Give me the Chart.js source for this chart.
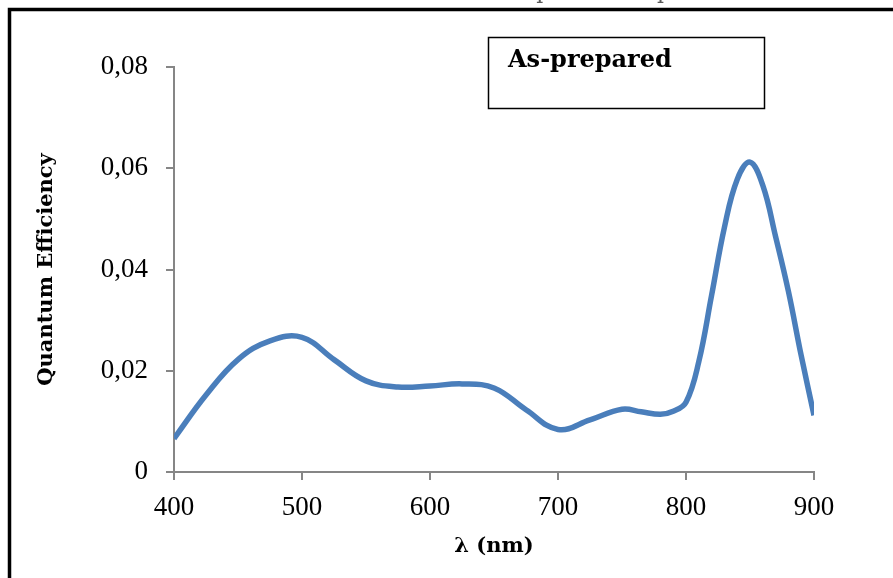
<!DOCTYPE html>
<html>
<head>
<meta charset="utf-8">
<script src="https://cdn.jsdelivr.net/npm/chart.js@4.4.1/dist/chart.umd.min.js"></script>
<style>
  html, body { margin: 0; padding: 0; background: #fff; }
  #wrap { position: relative; width: 893px; height: 578px; }
</style>
</head>
<body>
<div id="wrap"><canvas id="qeChart" width="893" height="578"></canvas></div>
<script>
// Datos (longitud de onda en nm y eficiencia cuántica)
const wavelengths = [400, 425, 450, 475, 500, 525, 550, 575, 600, 625, 650, 675, 700, 725, 750, 765, 780, 790, 800, 810, 820, 830, 840, 850, 860, 870, 880, 890, 900];
const efficiency = [0.0066, 0.0152, 0.0222, 0.0259, 0.0266, 0.0222, 0.0180, 0.0168, 0.0170, 0.0174, 0.0166, 0.0123, 0.0084, 0.0103, 0.0124, 0.0119, 0.0114, 0.0120, 0.0138, 0.0218, 0.0349, 0.0483, 0.0578, 0.0612, 0.0566, 0.0465, 0.0357, 0.0230, 0.0112];
const xTicks = [400, 500, 600, 700, 800, 900];
const yTicks = [0, 0.02, 0.04, 0.06, 0.08];
const seriesLabel = 'As-prepared';
const xTitle = 'λ (nm)';
const yTitle = 'Quantum Efficiency';
const topText = 'Spectral response';

const axisGray = '#868686';
const lineBlue = '#4a7ebb';
const serif = "'DejaVu Serif', 'Liberation Serif', serif";
const tickSerif = "'Liberation Serif', 'DejaVu Serif', serif";

// Marco, texto cortado arriba y recuadro de la leyenda
const decorPlugin = {
    id: 'decor',
    beforeDraw(chart) {
        const ctx = chart.ctx;
        ctx.save();
        ctx.fillStyle = '#595959';
        ctx.font = "22px " + serif;
        ctx.textAlign = 'center';
        ctx.textBaseline = 'alphabetic';
        ctx.fillText(topText, 622, -2);
        ctx.strokeStyle = '#000';
        ctx.lineWidth = 3.5;
        ctx.beginPath();
        ctx.moveTo(9.5, 600);
        ctx.lineTo(9.5, 9.5);
        ctx.lineTo(900, 9.5);
        ctx.stroke();
        ctx.restore();
    },
    afterDraw(chart) {
        const ctx = chart.ctx;
        ctx.save();
        ctx.fillStyle = '#fff';
        ctx.fillRect(488, 37, 277, 72);
        ctx.strokeStyle = '#000';
        ctx.lineWidth = 1.5;
        ctx.strokeRect(488.5, 37.5, 276, 71);
        ctx.fillStyle = '#000';
        ctx.font = "bold 24px " + serif;
        ctx.textAlign = 'left';
        ctx.textBaseline = 'alphabetic';
        ctx.fillText(seriesLabel, 508, 67);
        ctx.restore();
    }
};

const points = wavelengths.map((w, i) => ({ x: w, y: efficiency[i] }));

new Chart(document.getElementById('qeChart').getContext('2d'), {
    type: 'line',
    data: {
        datasets: [{
            label: seriesLabel,
            data: points,
            borderColor: lineBlue,
            borderWidth: 5.5,
            pointRadius: 0,
            tension: 0.4,
            fill: false
        }]
    },
    options: {
        responsive: false,
        animation: false,
        layout: { padding: { left: 0, top: 67, right: 79, bottom: 0 } },
        plugins: { legend: { display: false }, tooltip: { enabled: false } },
        scales: {
            x: {
                type: 'linear',
                min: 400,
                max: 900,
                afterFit(scale) { scale.height = 106; },
                afterBuildTicks(scale) { scale.ticks = xTicks.map(v => ({ value: v })); },
                ticks: { color: '#000', font: { family: tickSerif, size: 27 }, padding: 12, maxRotation: 0 },
                grid: { drawOnChartArea: false, drawTicks: true, tickLength: 8, color: axisGray, lineWidth: 2 },
                border: { color: axisGray, width: 2 },
                title: { display: true, text: xTitle, color: '#000', font: { family: serif, size: 21, weight: 'bold' }, padding: { top: 0, bottom: 19 } }
            },
            y: {
                min: 0,
                max: 0.08,
                afterFit(scale) { scale.width = 174; },
                afterBuildTicks(scale) { scale.ticks = yTicks.map(v => ({ value: v })); },
                ticks: {
                    color: '#000',
                    font: { family: tickSerif, size: 27 },
                    padding: 18,
                    callback: v => v === 0 ? '0' : v.toFixed(2).replace('.', ',')
                },
                grid: { drawOnChartArea: false, drawTicks: true, tickLength: 8, color: axisGray, lineWidth: 2 },
                border: { color: axisGray, width: 2 },
                title: { display: true, text: yTitle, color: '#000', font: { family: serif, size: 21, weight: 'bold' }, padding: { top: 34, bottom: 0 } }
            }
        }
    },
    plugins: [decorPlugin]
});
</script>
</body>
</html>
